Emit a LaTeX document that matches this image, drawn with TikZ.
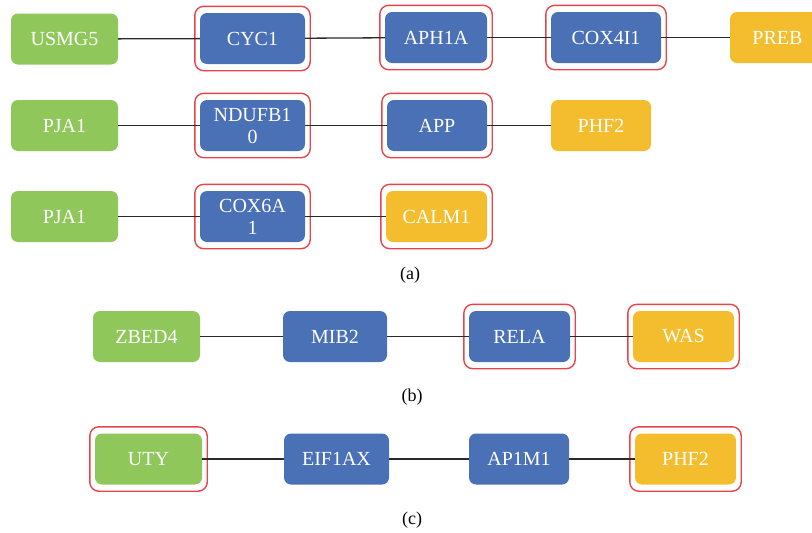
\documentclass[tikz,border=0pt]{standalone}
\usepackage{fontspec}
\setmainfont{Liberation Serif}
\usetikzlibrary{fit}
\definecolor{gGreen}{HTML}{8FC75B}
\definecolor{gBlue}{HTML}{4A70B6}
\definecolor{gYellow}{HTML}{F4BD2D}
\definecolor{gRed}{HTML}{E8454A}
\definecolor{gLine}{HTML}{2A2A2A}
\tikzset{
  gene/.style={rectangle, rounded corners=7pt, text=white, minimum height=51pt,
    font=\fontsize{20}{22}\selectfont, align=center, inner sep=0pt},
  gn/.style={gene, fill=gGreen},
  bl/.style={gene, fill=gBlue},
  yl/.style={gene, fill=gYellow},
  hl/.style={draw=gRed, line width=1.4pt, rounded corners=9pt, inner xsep=5pt, inner ysep=6.5pt},
  link/.style={draw=gLine, line width=1.3pt},
  captext/.style={font=\fontsize{18}{20}\selectfont, text=black}
}
\begin{document}
\begin{tikzpicture}[x=1pt,y=-1pt]
\useasboundingbox (0,0) rectangle (812,533);
% row a1
\node[gn, minimum width=107pt] (usmg5) at (64.5,39) {USMG5};
\node[bl, minimum width=105pt] (cyc1) at (252.5,38.5) {CYC1};
\node[bl, minimum width=102pt] (aph1a) at (436,37.5) {APH1A};
\node[bl, minimum width=110pt] (cox4i1) at (606,37.5) {COX4I1};
\node[yl, minimum width=95pt] (preb) at (777.5,37.5) {PREB};
\node[hl, fit=(cyc1)] {};
\node[hl, fit=(aph1a)] {};
\node[hl, fit=(cox4i1)] {};
\draw[link] (usmg5) -- (cyc1);
\draw[link] (cyc1) -- (aph1a);
\draw[link] (aph1a) -- (cox4i1);
\draw[link] (cox4i1) -- (preb);
% row a2
\node[gn, minimum width=107pt] (pja1a) at (64.5,125.5) {PJA1};
\node[bl, minimum width=105pt] (ndufb10) at (252.5,125.5) {NDUFB1\\0};
\node[bl, minimum width=100pt] (app) at (437,125.5) {APP};
\node[yl, minimum width=100pt] (phf2a) at (601,125.5) {PHF2};
\node[hl, fit=(ndufb10)] {};
\node[hl, fit=(app)] {};
\draw[link] (pja1a) -- (ndufb10);
\draw[link] (ndufb10) -- (app);
\draw[link] (app) -- (phf2a);
% row a3
\node[gn, minimum width=107pt] (pja1b) at (64.5,216.5) {PJA1};
\node[bl, minimum width=105pt] (cox6a1) at (252.5,216.5) {COX6A\\1};
\node[yl, minimum width=101pt] (calm1) at (436.5,216.5) {CALM1};
\node[hl, fit=(cox6a1)] {};
\node[hl, fit=(calm1)] {};
\draw[link] (pja1b) -- (cox6a1);
\draw[link] (cox6a1) -- (calm1);
\node[captext] (capa) at (410,275) {(a)};
% row b
\node[gn, minimum width=107pt] (zbed4) at (146.5,336.5) {ZBED4};
\node[bl, minimum width=104pt] (mib2) at (335,336.5) {MIB2};
\node[bl, minimum width=101pt] (rela) at (519.5,336.5) {RELA};
\node[yl, minimum width=101pt] (was) at (683.5,336.5) {WAS};
\node[hl, fit=(rela)] {};
\node[hl, fit=(was)] {};
\draw[link] (zbed4) -- (mib2);
\draw[link] (mib2) -- (rela);
\draw[link] (rela) -- (was);
\node[captext] (capb) at (412,397) {(b)};
% row c
\node[gn, minimum width=107pt] (uty) at (148.5,459) {UTY};
\node[bl, minimum width=105pt] (eif1ax) at (336.5,459) {EIF1AX};
\node[bl, minimum width=100pt] (ap1m1) at (519,459) {AP1M1};
\node[yl, minimum width=101pt] (phf2b) at (685.5,459) {PHF2};
\node[hl, fit=(uty)] {};
\node[hl, fit=(phf2b)] {};
\draw[link] (uty) -- (eif1ax);
\draw[link] (eif1ax) -- (ap1m1);
\draw[link] (ap1m1) -- (phf2b);
\node[captext] (capc) at (412,520) {(c)};
\end{tikzpicture}
\end{document}
